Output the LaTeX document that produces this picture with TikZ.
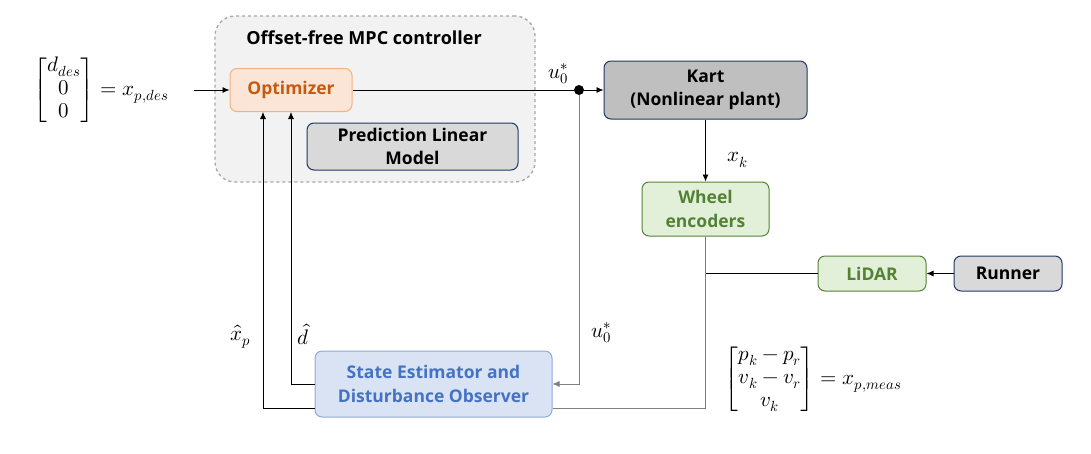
\documentclass[tikz,border=0pt]{standalone}
\usepackage{amsmath}
\usepackage{fontspec}
\usepackage{unicode-math}
\setmainfont{Open Sans}
\setmathfont{Latin Modern Math}
\usepackage{tikz}
\usetikzlibrary{arrows.meta, positioning, calc}
\usepackage{xcolor}
\definecolor{mpcfill}{HTML}{F2F2F2}
\definecolor{mpcline}{HTML}{A6A6A6}
\definecolor{optfill}{HTML}{FBE5D6}
\definecolor{optline}{HTML}{F4B183}
\definecolor{opttext}{HTML}{C55A11}
\definecolor{navy}{HTML}{1F3864}
\definecolor{grayfill}{HTML}{D9D9D9}
\definecolor{kartfill}{HTML}{BFBFBF}
\definecolor{encfill}{HTML}{E2F0D9}
\definecolor{encline}{HTML}{548235}
\definecolor{estfill}{HTML}{DAE3F3}
\definecolor{estline}{HTML}{8FAADC}
\definecolor{esttext}{HTML}{4472C4}
\definecolor{fbline}{HTML}{7F7F7F}

\begin{document}
\begin{tikzpicture}[x=1pt, y=-1pt,
  box/.style={draw, rounded corners=7pt, line width=1pt, align=center, inner sep=0pt,
              font=\fontsize{17.5}{23.5}\selectfont\bfseries},
  arr/.style={-{Latex[length=7pt,width=6pt]}, line width=0.8pt},
  wire/.style={line width=0.8pt},
  lbl/.style={font=\fontsize{21}{23}\selectfont, inner sep=0pt}
]
\useasboundingbox (0,0) rectangle (1091,453);

\node[draw=mpcline, fill=mpcfill, dashed, line width=1.3pt, rounded corners=20pt,
      minimum width=320, minimum height=166] (mpc) at (375,99) {};
\node[font=\fontsize{18}{20}\selectfont\bfseries] (mpct) at (364,38) {Offset-free MPC controller};
\node[box, draw=optline, fill=optfill, text=opttext, minimum width=122, minimum height=43] (opt) at (291,90) {Optimizer};
\node[box, draw=navy, fill=grayfill, minimum width=211, minimum height=47] (plm) at (412.5,146.5) {Prediction Linear\\Model};
\node[box, draw=navy, fill=kartfill, minimum width=203, minimum height=58] (kart) at (705.5,90) {Kart\\(Nonlinear plant)};
\node[box, draw=encline, fill=encfill, text=encline, minimum width=127, minimum height=54] (enc) at (705.5,209) {Wheel\\encoders};
\node[box, draw=encline, fill=encfill, text=encline, minimum width=108, minimum height=35] (lidar) at (872,273.5) {LiDAR};
\node[box, draw=navy, fill=grayfill, minimum width=108, minimum height=35] (runner) at (1008,273.5) {Runner};
\node[box, draw=estline, fill=estfill, text=esttext, minimum width=237, minimum height=66] (est) at (433.5,384) {State Estimator and\\Disturbance Observer};
\node[circle, fill, inner sep=0pt, minimum size=10pt] (jn) at (579,90) {};

\node[lbl] (xdes) at (101,90) {$\begin{bmatrix} d_{des}\\ 0\\ 0 \end{bmatrix} = x_{p,des}$};
\node[lbl] (xmeas) at (813,379) {$\begin{bmatrix} p_k - p_r\\ v_k - v_r\\ v_k \end{bmatrix} = x_{p,meas}$};
\node[lbl] (uup) at (558,74) {$u_0^*$};
\node[lbl] (udown) at (601,333) {$u_0^*$};
\node[lbl] (xk) at (738,160) {$x_k$};
\node[lbl] (xhat) at (241,337) {$\hat{x}_p$};
\node[lbl] (dhat) at (303,334) {$\hat{d}$};

\coordinate (xin) at (194,90);
\draw[arr] (xin) -- (opt.west);
\draw[wire] (opt.east) -- (jn);
\draw[arr] (jn) -- (kart.west);
\draw[arr] (kart.south) -- (enc.north);
\draw[arr, fbline] (jn) |- (est.east);
\draw[wire, fbline] (enc.south) |- ($(est.east)+(0,24)$);
\draw[wire] (lidar.west) -- (lidar.west -| enc.south);
\draw[arr] (runner.west) -- (lidar.east);
\draw[arr] (est.west) -| (opt.south);
\draw[arr] ($(est.west)+(0,24)$) -| ($(opt.south)+(-28,0)$);
\end{tikzpicture}
\end{document}
